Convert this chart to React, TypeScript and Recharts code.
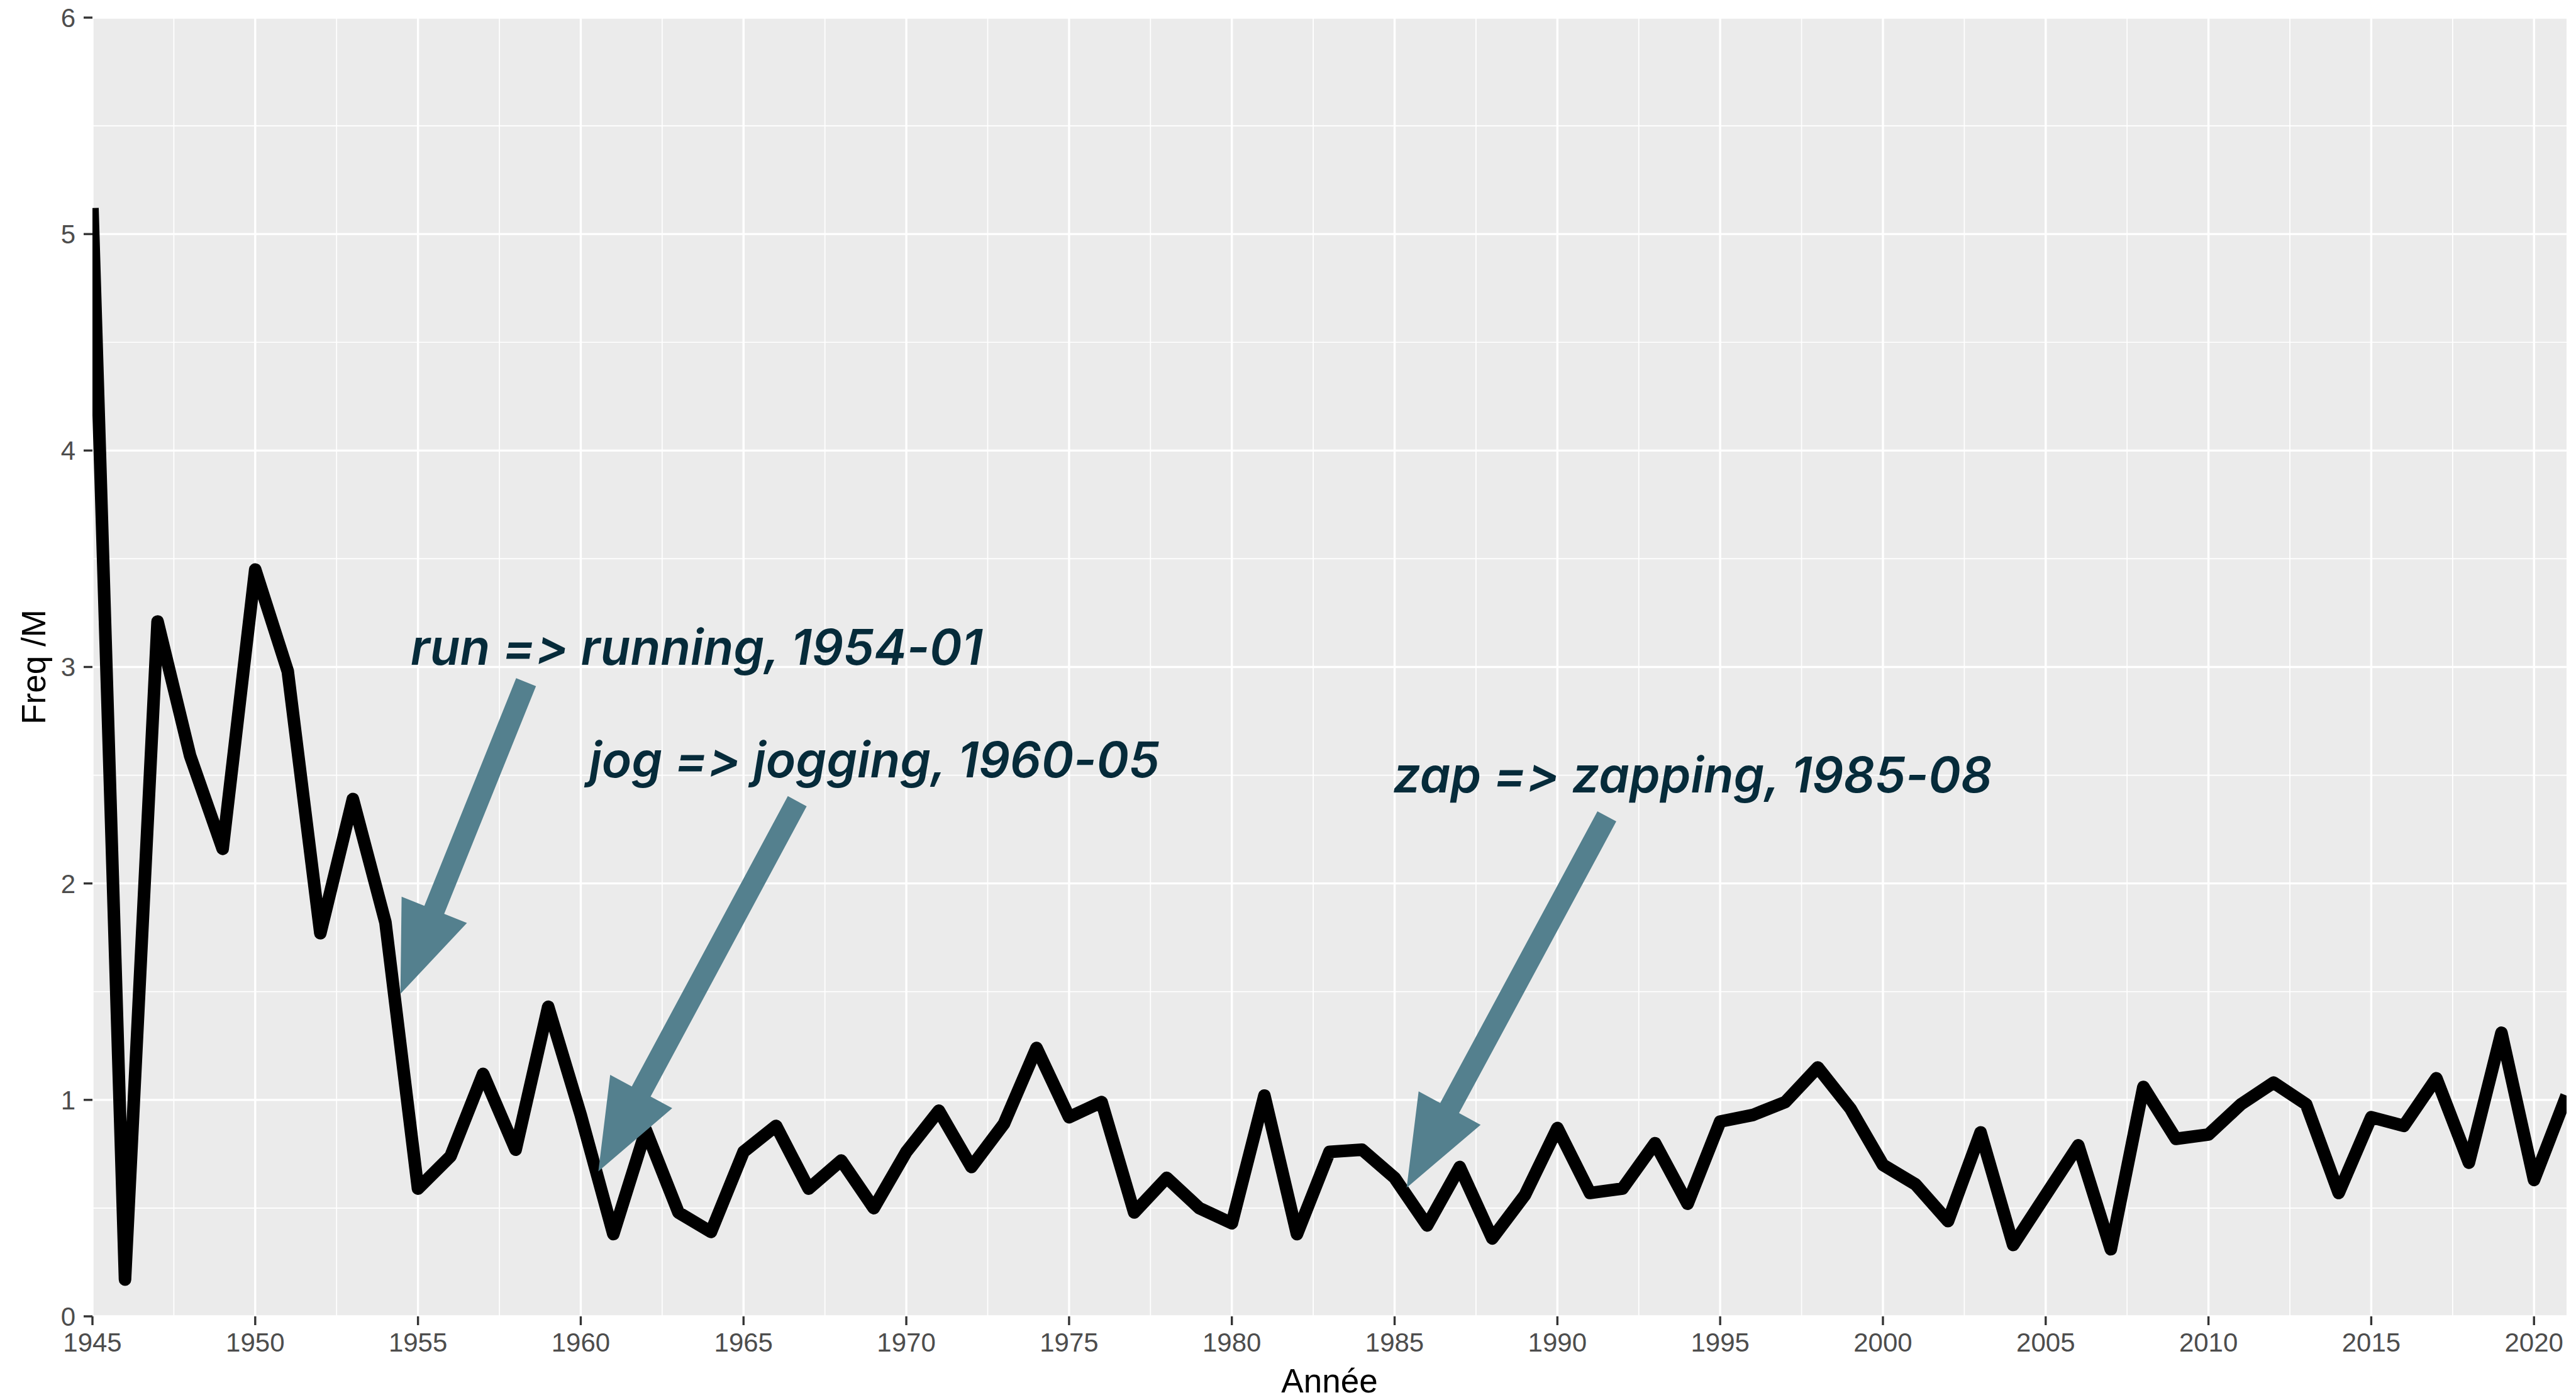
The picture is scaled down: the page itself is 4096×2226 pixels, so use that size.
import { CartesianGrid, Label, Line, LineChart, ReferenceDot, ReferenceLine, XAxis, YAxis } from "recharts";

// yearly frequency (per million words)
const years = [
  1945, 1946, 1947, 1948, 1949, 1950, 1951, 1952, 1953, 1954, 1955, 1956, 1957, 1958, 1959, 1960,
  1961, 1962, 1963, 1964, 1965, 1966, 1967, 1968, 1969, 1970, 1971, 1972, 1973, 1974, 1975, 1976,
  1977, 1978, 1979, 1980, 1981, 1982, 1983, 1984, 1985, 1986, 1987, 1988, 1989, 1990, 1991, 1992,
  1993, 1994, 1995, 1996, 1997, 1998, 1999, 2000, 2001, 2002, 2003, 2004, 2005, 2006, 2007, 2008,
  2009, 2010, 2011, 2012, 2013, 2014, 2015, 2016, 2017, 2018, 2019, 2020, 2021,
];
const freq = [
  5.12, 0.17, 3.21, 2.59, 2.16, 3.45, 2.98, 1.77, 2.39, 1.82, 0.59, 0.74, 1.12, 0.77, 1.43, 0.93,
  0.38, 0.86, 0.48, 0.39, 0.76, 0.88, 0.59, 0.72, 0.5, 0.76, 0.95, 0.69, 0.89, 1.24, 0.92, 0.99,
  0.48, 0.64, 0.5, 0.43, 1.02, 0.38, 0.76, 0.77, 0.64, 0.42, 0.69, 0.36, 0.56, 0.87, 0.57, 0.59,
  0.8, 0.52, 0.9, 0.93, 0.99, 1.15, 0.96, 0.7, 0.61, 0.44, 0.85, 0.33, 0.56, 0.79, 0.31, 1.06,
  0.82, 0.84, 0.98, 1.08, 0.98, 0.57, 0.92, 0.88, 1.1, 0.71, 1.31, 0.63, 1.02,
];

const xTicks = [1945, 1950, 1955, 1960, 1965, 1970, 1975, 1980, 1985, 1990, 1995, 2000, 2005, 2010, 2015, 2020];
const xMinor = [
  1947.5, 1952.5, 1957.5, 1962.5, 1967.5, 1972.5, 1977.5, 1982.5, 1987.5, 1992.5, 1997.5, 2002.5,
  2007.5, 2012.5, 2017.5,
];
const yTicks = [0, 1, 2, 3, 4, 5, 6];
const yMinor = [0.5, 1.5, 2.5, 3.5, 4.5, 5.5];

// annotations: label anchor (left, baseline) and arrow tail -> tip, in data units
const noteText = ["run => running, 1954-01", "jog => jogging, 1960-05", "zap => zapping, 1985-08"];
const noteX = [1954.77, 1960.25, 1984.95];
const noteY = [3.01, 2.49, 2.42];
const arrowFrom = [
  [1958.32, 2.93],
  [1966.65, 2.38],
  [1991.52, 2.31],
];
const arrowTo = [
  [1954.46, 1.49],
  [1960.54, 0.67],
  [1985.37, 0.594],
];

const data = years.map((y, i) => ({ year: y, freq: freq[i] }));

const W = 4096;
const H = 2226;
const ARROW = "#54808E";
const NOTE = "#062B3A";
const SHAFT = 34;
const HEAD_LEN = 144;
const HEAD_HALF = 56;

/* eslint-disable @typescript-eslint/no-explicit-any */
function Arrow(props: any) {
  const { x1, y1, x2, y2 } = props;
  const dx = x2 - x1;
  const dy = y2 - y1;
  const len = Math.hypot(dx, dy) || 1;
  const ux = dx / len;
  const uy = dy / len;
  const px = -uy;
  const py = ux;
  const bx = x2 - ux * HEAD_LEN;
  const by = y2 - uy * HEAD_LEN;
  const s = SHAFT / 2;
  const pts = [
    [x1 + px * s, y1 + py * s],
    [bx + px * s, by + py * s],
    [bx + px * HEAD_HALF, by + py * HEAD_HALF],
    [x2, y2],
    [bx - px * HEAD_HALF, by - py * HEAD_HALF],
    [bx - px * s, by - py * s],
    [x1 - px * s, y1 - py * s],
  ];
  return <polygon points={pts.map((p) => p.join(",")).join(" ")} fill={ARROW} />;
}

// Inter turns "=>" into an arrow glyph unless contextual alternates are off
const noteShape = (text: string) => (p: any) => (
  <text
    x={p.cx}
    y={p.cy}
    fill={NOTE}
    fontFamily="Inter, 'Open Sans', sans-serif"
    fontStyle="italic"
    fontWeight={600}
    fontSize={78}
    style={{ fontFeatureSettings: '"calt" 0, "liga" 0', fontVariantLigatures: "none" }}
  >
    {text}
  </text>
);

const xTitle = ({ viewBox }: any) => (
  <text
    x={viewBox.x + viewBox.width / 2}
    y={viewBox.y + 121}
    textAnchor="middle"
    fill="#000"
    fontSize={53}
    fontFamily="'Liberation Sans', Arial, sans-serif"
  >
    Année
  </text>
);

const yTitle = ({ viewBox }: any) => {
  const x = viewBox.x + 72;
  const y = viewBox.y + viewBox.height / 2;
  return (
    <text
      x={x}
      y={y}
      transform={`rotate(-90, ${x}, ${y})`}
      textAnchor="middle"
      fill="#000"
      fontSize={53}
      fontFamily="'Liberation Sans', Arial, sans-serif"
    >
      Freq /M
    </text>
  );
};
/* eslint-enable @typescript-eslint/no-explicit-any */

const tickStyle = { fontSize: 42, fill: "#4D4D4D", fontFamily: "'Liberation Sans', Arial, sans-serif" };

export default function App() {
  return (
    <div style={{ position: "fixed", left: 0, top: 0, width: W, height: H, background: "#fff" }}>
      <LineChart width={W} height={H} data={data} margin={{ top: 28, right: 15, bottom: 0, left: 0 }}>
        <CartesianGrid
          fill="#EBEBEB"
          stroke="#FFFFFF"
          strokeWidth={3.4}
          horizontalValues={yTicks}
          verticalValues={xTicks}
        />
        <CartesianGrid
          stroke="#FFFFFF"
          strokeWidth={1.7}
          horizontalValues={yMinor}
          verticalValues={xMinor}
        />
        <XAxis
          dataKey="year"
          type="number"
          domain={[1945, 2021]}
          ticks={xTicks}
          allowDataOverflow
          height={133}
          axisLine={false}
          tickSize={14}
          tickMargin={12}
          tick={tickStyle}
          tickLine={{ stroke: "#333333", strokeWidth: 3.4 }}
        >
          <Label content={xTitle} />
        </XAxis>
        <YAxis
          type="number"
          domain={[0, 6]}
          ticks={yTicks}
          allowDataOverflow
          width={147}
          axisLine={false}
          tickSize={14}
          tickMargin={13}
          tick={tickStyle}
          tickLine={{ stroke: "#333333", strokeWidth: 3.4 }}
        >
          <Label content={yTitle} />
        </YAxis>
        <Line
          dataKey="freq"
          type="linear"
          stroke="#000000"
          strokeWidth={20}
          strokeLinejoin="round"
          strokeLinecap="butt"
          dot={false}
          activeDot={false}
          isAnimationActive={false}
        />
        {noteText.map((t, i) => (
          <ReferenceLine
            key={`a${i}`}
            segment={[
              { x: arrowFrom[i][0], y: arrowFrom[i][1] },
              { x: arrowTo[i][0], y: arrowTo[i][1] },
            ]}
            shape={Arrow}
            zIndex={700}
          />
        ))}
        {noteText.map((t, i) => (
          <ReferenceDot key={`t${i}`} x={noteX[i]} y={noteY[i]} r={0} shape={noteShape(t)} zIndex={700} />
        ))}
      </LineChart>
    </div>
  );
}
